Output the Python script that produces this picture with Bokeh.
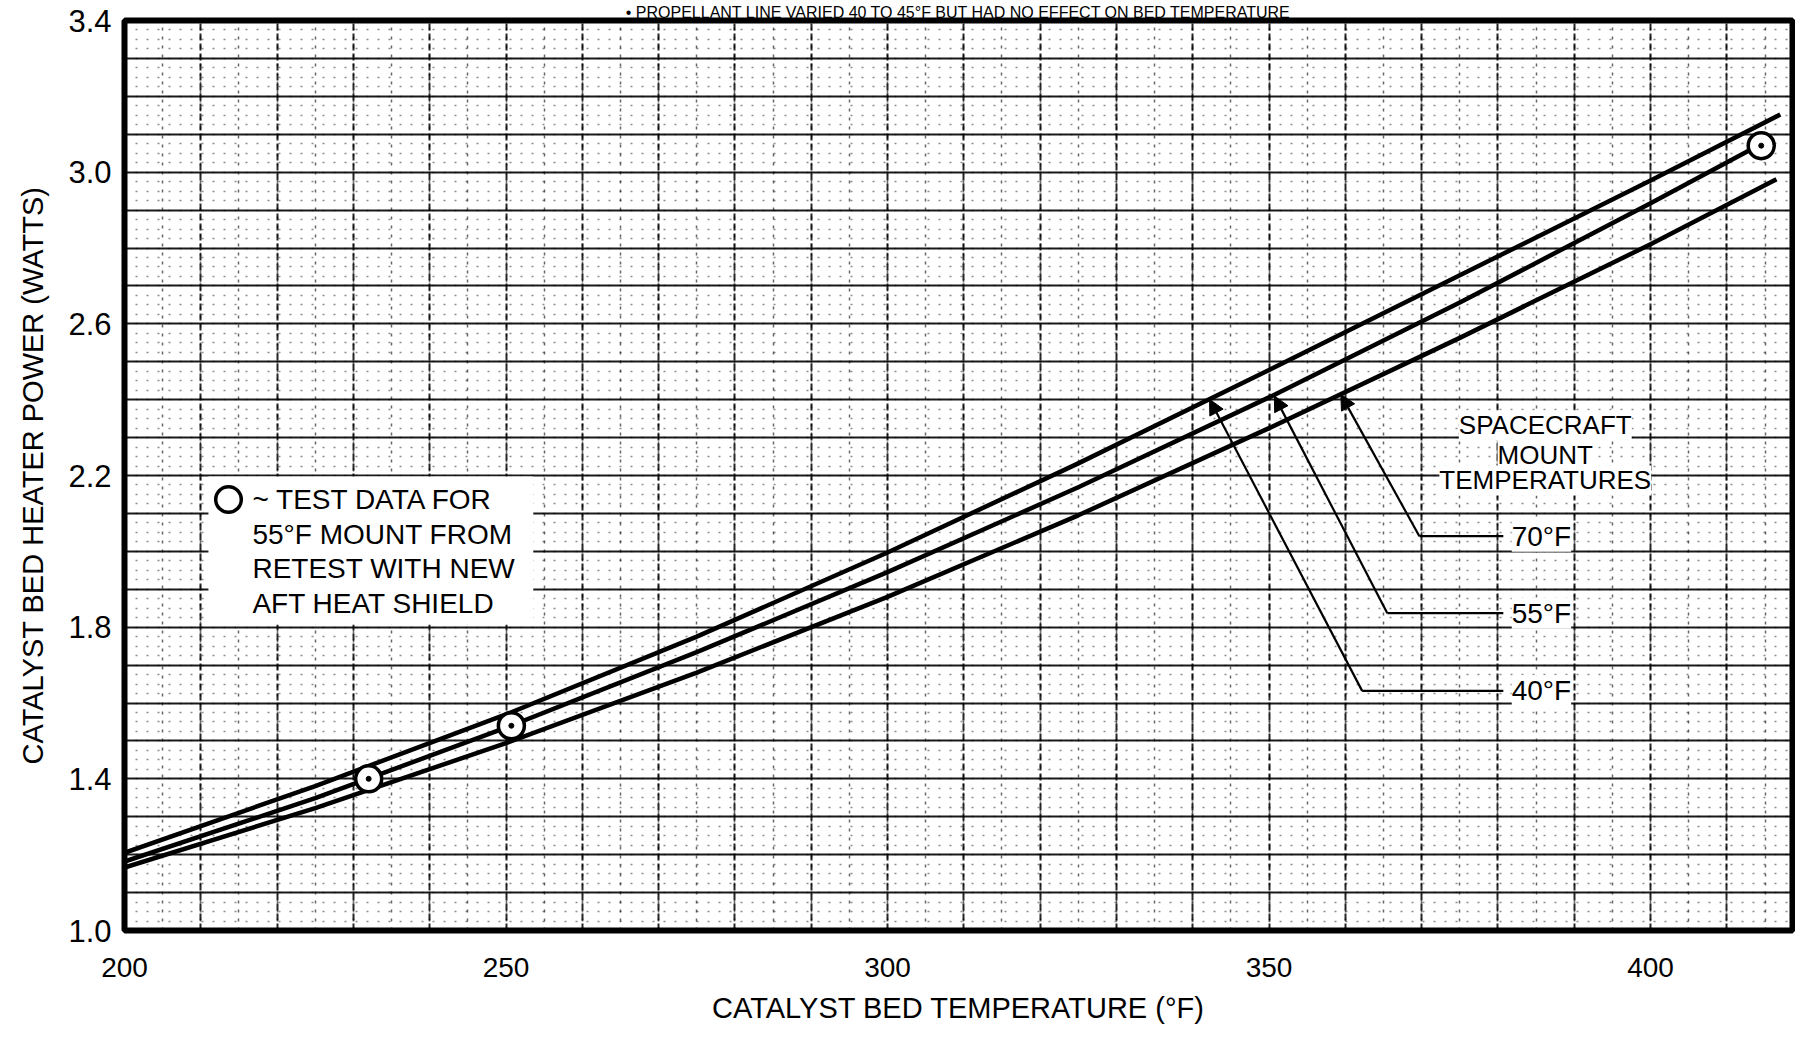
from bokeh.plotting import figure
from bokeh.models import (Range1d, FixedTicker, SingleIntervalTicker, Label, Arrow,
                          NormalHead, Legend, LegendItem, ColumnDataSource, PrintfTickFormatter)
from bokeh.embed import file_html
from bokeh.resources import INLINE

# ---------------- data ----------------
bed_temp_40 = [200, 225, 250, 275, 300, 325, 350, 375, 400, 417]
power_40 = [1.205, 1.381, 1.570, 1.775, 1.997, 2.232, 2.478, 2.728, 2.978, 3.152]

bed_temp_55 = [200, 225, 250, 275, 300, 325, 350, 375, 400, 414.5]
power_55 = [1.182, 1.349, 1.535, 1.734, 1.945, 2.169, 2.406, 2.656, 2.918, 3.074]

bed_temp_70 = [200, 225, 250, 275, 300, 325, 350, 375, 400, 416.5]
power_70 = [1.166, 1.323, 1.494, 1.680, 1.880, 2.095, 2.325, 2.563, 2.810, 2.981]

test_temp_55 = [232.0, 250.7, 414.5]
test_power_55 = [1.40, 1.54, 3.07]

x_ticks = [200, 250, 300, 350, 400]
y_ticks = [1.0, 1.4, 1.8, 2.2, 2.6, 3.0, 3.4]

mount_labels = ["70\u00b0F", "55\u00b0F", "40\u00b0F"]
legend_text = "~ TEST DATA FOR\n55\u00b0F MOUNT FROM\nRETEST WITH NEW\nAFT HEAT SHIELD"
title_text = "\u2022 PROPELLANT LINE VARIED 40 TO 45\u00b0F BUT HAD NO EFFECT ON BED TEMPERATURE"

# annotation geometry (data units)
label_x = 381.8
label_y = [2.04, 1.837, 1.632]
leader_end_x = 380.7
bend_x = [369.7, 365.5, 362.2]
tip_x = [359.4, 350.7, 342.2]
tip_y = [2.414, 2.410, 2.401]
spacecraft_lines = ["SPACECRAFT", "MOUNT", "TEMPERATURES"]
spacecraft_x = 386.2
spacecraft_y = [2.332, 2.255, 2.187]
legend_text_x = 211.0
legend_text_top = 2.1976

FONT = "Liberation Sans"

p = figure(width=1795, height=1030, x_range=Range1d(200, 418.6), y_range=Range1d(1.0, 3.4),
           output_backend="svg", toolbar_location=None,
           min_border_left=124, min_border_right=3, min_border_top=20, min_border_bottom=100,
           title=title_text)
p.title.text_font = FONT
p.title.text_font_size = "16px"
p.title.text_font_style = "normal"
p.title.text_color = "black"
p.title.align = "center"
p.title.standoff = 0
p.title.offset = 0

p.outline_line_color = "black"
p.outline_line_width = 6
p.outline_line_alpha = 1.0
p.background_fill_color = "white"
p.border_fill_color = "white"

# axes
p.xaxis.ticker = FixedTicker(ticks=x_ticks)
p.yaxis.ticker = FixedTicker(ticks=y_ticks)
p.xaxis.formatter = PrintfTickFormatter(format="%d")
p.yaxis.formatter = PrintfTickFormatter(format="%.1f")
for ax in (p.xaxis, p.yaxis):
    ax.axis_line_color = None
    ax.major_tick_line_color = None
    ax.minor_tick_line_color = None
    ax.major_label_text_font = FONT
    ax.major_label_text_color = "black"
    ax.axis_label_text_font = FONT
    ax.axis_label_text_font_size = "29px"
    ax.axis_label_text_font_style = "normal"
    ax.axis_label_text_color = "black"
p.xaxis.major_label_text_font_size = "28px"
p.yaxis.major_label_text_font_size = "31px"
p.xaxis.major_label_standoff = 21
p.yaxis.major_label_standoff = 7
p.xaxis.axis_label = "CATALYST BED TEMPERATURE (\u00b0F)"
p.yaxis.axis_label = "CATALYST BED HEATER POWER (WATTS)"
p.xaxis.axis_label_standoff = 12
p.yaxis.axis_label_standoff = 16

# graph-paper grid
p.xgrid.ticker = SingleIntervalTicker(interval=10, num_minor_ticks=2)
p.xgrid.grid_line_color = "black"
p.xgrid.grid_line_width = 2
p.xgrid.grid_line_dash = "7 3"
p.xgrid.grid_line_alpha = 0.85
p.xgrid.minor_grid_line_color = "black"
p.xgrid.minor_grid_line_width = 1.5
p.xgrid.minor_grid_line_dash = "3 6"
p.xgrid.minor_grid_line_alpha = 0.6

p.ygrid.ticker = SingleIntervalTicker(interval=0.1, num_minor_ticks=4)
p.ygrid.grid_line_color = "black"
p.ygrid.grid_line_width = 2.2
p.ygrid.grid_line_alpha = 0.9
p.ygrid.minor_grid_line_color = "black"
p.ygrid.minor_grid_line_width = 1.5
p.ygrid.minor_grid_line_dash = "2 9"
p.ygrid.minor_grid_line_alpha = 0.45

# curves
for xs, ys in ((bed_temp_40, power_40), (bed_temp_55, power_55), (bed_temp_70, power_70)):
    p.line(x=xs, y=ys, line_color="black", line_width=4.5, line_join="round")

test_src = ColumnDataSource(dict(x=test_temp_55, y=test_power_55))
circ = p.scatter("x", "y", source=test_src, marker="circle", size=26, fill_color="white",
                 line_color="black", line_width=3.5)
p.scatter("x", "y", source=test_src, marker="circle", size=5, fill_color="black", line_color="black")

# legend text block with white box, then legend key (circle only) on top
p.add_layout(Label(x=legend_text_x, y=legend_text_top, text=legend_text, text_baseline="top",
                   text_font=FONT, text_font_size="28px", text_color="black", text_line_height=1.11,
                   background_fill_color="white",
                   padding=dict(left=44, right=18, top=8, bottom=6)))
legend = Legend(items=[LegendItem(label=" ", renderers=[circ])],
                location=(72, 399), glyph_width=64, glyph_height=64,
                label_text_font=FONT, label_text_font_size="10px", label_text_color="black",
                label_standoff=0, padding=0, spacing=0, margin=0,
                border_line_color=None, background_fill_alpha=0.0)
p.add_layout(legend)

# leader lines and arrows
for i in range(3):
    p.line(x=[leader_end_x, bend_x[i]], y=[label_y[i], label_y[i]], line_color="black", line_width=2.2)
    p.add_layout(Arrow(x_start=bend_x[i], y_start=label_y[i], x_end=tip_x[i], y_end=tip_y[i],
                       line_color="black", line_width=2.2,
                       end=NormalHead(size=15, fill_color="black", line_color="black")))
    p.add_layout(Label(x=label_x, y=label_y[i], text=mount_labels[i], text_baseline="middle",
                       text_font=FONT, text_font_size="28px", text_color="black",
                       background_fill_color="white"))

for txt, yy in zip(spacecraft_lines, spacecraft_y):
    p.add_layout(Label(x=spacecraft_x, y=yy, text=txt, text_align="center", text_baseline="middle",
                       text_font=FONT, text_font_size="26px", text_color="black",
                       background_fill_color="white"))

open("out.html", "w").write(file_html(p, INLINE))
